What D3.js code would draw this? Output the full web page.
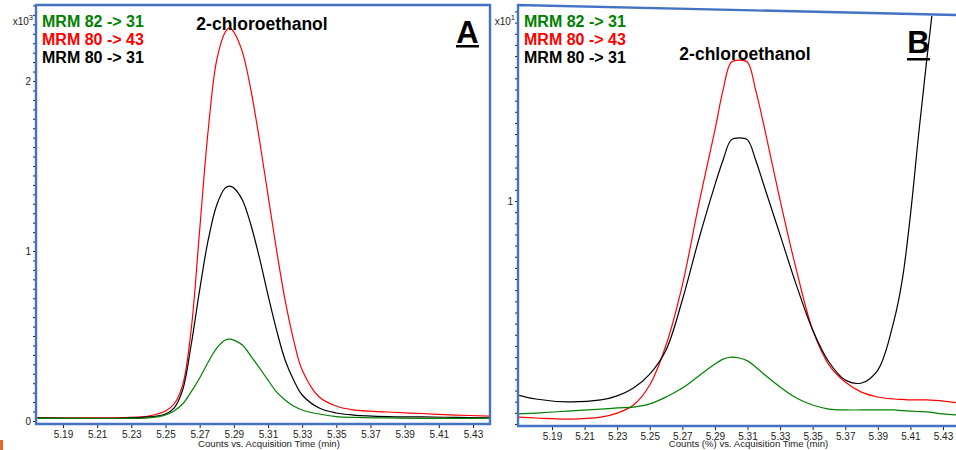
<!DOCTYPE html>
<html>
<head>
<meta charset="utf-8">
<script src="https://cdn.jsdelivr.net/npm/d3@7"></script>
<style>
body{margin:0;background:#fff}
svg{display:block}
</style>
</head>
<body>
<svg id="svg" width="956" height="450"></svg>
<script>
// ---- data ----
const seriesNames = ["MRM 82 -> 31", "MRM 80 -> 43", "MRM 80 -> 31"];
const seriesColors = ["#008000", "#ff0000", "#000000"];
const compound = "2-chloroethanol";
const xTickLabels = ["5.19","5.21","5.23","5.25","5.27","5.29","5.31","5.33","5.35","5.37","5.39","5.41","5.43"];

// panel A, counts x10^3
const timesA = [5.175,5.20,5.23,5.24,5.245,5.25,5.255,5.26,5.265,5.27,5.275,5.28,5.285,5.2875,5.29,5.295,5.30,5.305,5.31,5.315,5.32,5.325,5.33,5.34,5.35,5.36,5.38,5.40,5.42,5.44];
const redA   = [0.018,0.018,0.021,0.029,0.041,0.059,0.10,0.21,0.535,1.124,1.712,2.124,2.288,2.312,2.288,2.171,1.947,1.653,1.329,1.006,0.712,0.476,0.30,0.141,0.088,0.065,0.053,0.044,0.035,0.029];
const blackA = [0.018,0.015,0.018,0.024,0.029,0.041,0.076,0.182,0.447,0.771,1.065,1.271,1.371,1.382,1.371,1.30,1.153,0.959,0.741,0.535,0.359,0.241,0.153,0.076,0.047,0.035,0.026,0.024,0.021,0.018];
const greenA = [0.015,0.015,0.015,0.018,0.024,0.035,0.059,0.10,0.171,0.253,0.347,0.429,0.476,0.482,0.476,0.447,0.382,0.312,0.241,0.171,0.124,0.088,0.065,0.041,0.026,0.021,0.018,0.015,0.015,0.015];
const yLabelsA = [0, 1, 2];

// panel B, counts (%) x10^1
const timesB = [5.169,5.18,5.20,5.22,5.23,5.24,5.25,5.26,5.27,5.28,5.29,5.295,5.30,5.305,5.31,5.315,5.32,5.33,5.34,5.35,5.36,5.37,5.38,5.39,5.40,5.405,5.41,5.415,5.42,5.425,5.43,5.44];
const redB   = [0.031,0.027,0.022,0.031,0.049,0.085,0.175,0.354,0.623,0.982,1.318,1.498,1.622,1.632,1.622,1.498,1.341,1.004,0.691,0.422,0.265,0.188,0.143,0.121,0.112,0.110,0.108,0.108,0.108,0.106,0.103,0.094];
const blackB = [0.130,0.112,0.099,0.108,0.126,0.161,0.224,0.332,0.556,0.825,1.072,1.184,1.274,1.283,1.274,1.184,1.072,0.848,0.623,0.422,0.278,0.197,0.184,0.242,0.466,0.646,0.937,1.296,1.632,1.946,2.3,2.6];
const greenB = [0.045,0.049,0.058,0.067,0.072,0.076,0.090,0.121,0.161,0.215,0.269,0.291,0.300,0.296,0.283,0.256,0.224,0.166,0.117,0.085,0.067,0.063,0.063,0.063,0.063,0.060,0.058,0.056,0.054,0.050,0.045,0.040];
const yLabelsB = [1];

const svg = d3.select("#svg");
const font = "'Liberation Sans', Arial, sans-serif";
const blue = "#4472c4";

function drawPanel(p)
{
    const g = svg.append("g");
    const x = d3.scaleLinear().domain([5.19, 5.43]).range(p.xr);
    const y = d3.scaleLinear().domain([0, 1]).range(p.yr);

    g.append("clipPath").attr("id", "clip" + p.id)
        .append("rect").attr("x", p.left).attr("y", p.clipTop)
        .attr("width", p.right - p.left).attr("height", p.bottom - p.clipTop);

    const line = d3.line().x(d => x(d.t)).y(d => y(d.v)).curve(d3.curveCatmullRom.alpha(0.5));
    const order = [1, 2, 0]; // red, black, green on top
    order.forEach(k => {
        const vals = p.series[k];
        const pts = p.times.map((t, i) => ({t: t, v: vals[i]}));
        g.append("path").attr("d", line(pts)).attr("fill", "none")
            .attr("stroke", seriesColors[k]).attr("stroke-width", 1.2)
            .attr("clip-path", "url(#clip" + p.id + ")");
    });

    // x axis
    const xa = g.append("g").attr("transform", "translate(0," + p.bottom + ")")
        .call(d3.axisBottom(x).tickValues(xTickLabels.map(Number)).tickFormat((d, i) => xTickLabels[i]).tickSize(4).tickPadding(3));
    xa.select(".domain").remove();
    xa.selectAll("text").style("font-family", font).style("font-size", "10px").attr("fill", "#222");
    xa.selectAll("line").attr("stroke", "#222");

    // y axis, minor ticks then labels
    const ym = g.append("g").attr("transform", "translate(" + p.left + ",0)")
        .call(d3.axisLeft(y).tickValues(d3.range(0, p.yMax, p.minor)).tickFormat("").tickSize(3));
    ym.select(".domain").remove();
    ym.selectAll("line").attr("stroke", "#222");
    const yl = g.append("g").attr("transform", "translate(" + p.left + ",0)")
        .call(d3.axisLeft(y).tickValues(p.yLabels).tickFormat(d3.format("d")).tickSize(3).tickPadding(2));
    yl.select(".domain").remove();
    yl.selectAll("text").style("font-family", font).style("font-size", "10px").attr("fill", "#222");
    yl.selectAll("line").attr("stroke", "#222");

    // exponent
    const ex = g.append("text").attr("x", p.left - 3).attr("y", 25).attr("text-anchor", "end")
        .style("font-family", font).style("font-size", "10px").attr("fill", "#222");
    ex.append("tspan").text("x10");
    ex.append("tspan").attr("dy", -5).style("font-size", "7.5px").text(p.exp);

    // border
    g.append("path").attr("d", p.border).attr("fill", "none").attr("stroke", blue).attr("stroke-width", 2.4);

    // legend
    seriesNames.forEach((s, i) => {
        g.append("text").attr("x", p.left + 6).attr("y", 27 + i * 18.2)
            .style("font-family", font).style("font-size", "16px").style("font-weight", "bold")
            .attr("fill", seriesColors[i]).text(s);
    });

    g.append("text").attr("x", p.titleX).attr("y", p.titleY).attr("text-anchor", "middle")
        .style("font-family", font).style("font-size", "17.5px").style("font-weight", "bold").text(compound);

    g.append("text").attr("x", p.letterX).attr("y", p.letterY).attr("text-anchor", "middle")
        .style("font-family", font).style("font-size", "31px").style("font-weight", "bold").text(p.letter);
    g.append("rect").attr("x", p.letterX - 11.5).attr("y", p.underY).attr("width", 23).attr("height", 2.5).attr("fill", "#000");

    g.append("text").attr("x", (p.xr[0] + p.xr[1]) / 2 + 1).attr("y", 447).attr("text-anchor", "middle")
        .style("font-family", font).style("font-size", "9.6px").attr("fill", "#222").text(p.xTitle);
}

drawPanel({
    id: "A", left: 36, right: 490, bottom: 424, clipTop: 5,
    xr: [63, 473], yr: [421, 251], yMax: 2.45, minor: 1 / 18,
    times: timesA, series: [greenA, redA, blackA], yLabels: yLabelsA, exp: "3",
    border: "M36,5H490V424H36Z",
    titleX: 262, titleY: 30, letter: "A", letterX: 467.5, letterY: 43, underY: 45,
    xTitle: "Counts vs. Acquisition Time (min)"
});

drawPanel({
    id: "B", left: 518, right: 958, bottom: 426, clipTop: 16,
    xr: [552, 943], yr: [424, 201], yMax: 1.9, minor: 0.05,
    times: timesB, series: [greenB, redB, blackB], yLabels: yLabelsB, exp: "1",
    border: "M958,15L518,5V426H958",
    titleX: 745, titleY: 60, letter: "B", letterX: 918.5, letterY: 53, underY: 58,
    xTitle: "Counts (%) vs. Acquisition Time (min)"
});

// small orange mark at the lower left edge
svg.append("rect").attr("x", 0).attr("y", 440).attr("width", 3).attr("height", 10).attr("fill", "#e8652a");
</script>
</body>
</html>
